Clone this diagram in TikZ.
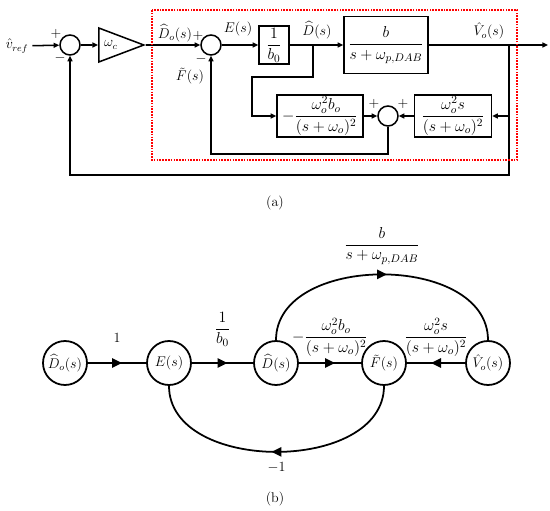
\RequirePackage{fix-cm}
\documentclass[tikz,border=0pt]{standalone}
\usepackage{amsmath}
\usepackage{amssymb}
\usetikzlibrary{arrows.meta, positioning, shapes, decorations.markings}

\begin{document}
\begin{tikzpicture}[
    x=0.03cm, y=-0.03cm,
    font=\large,
    tf/.style={font=\fontsize{13.5}{16}\selectfont},
    block/.style={rectangle, draw, line width=1.3pt, inner sep=1pt, align=center, tf},
    sum/.style={circle, draw, line width=1.3pt, minimum size=0.6cm, inner sep=0pt},
    amp/.style={isosceles triangle, draw, line width=1.3pt, isosceles triangle stretches, minimum width=1.02cm, minimum height=1.35cm, inner sep=0pt},
    arrow/.style={-{Triangle[length=1.7mm, width=1.5mm]}, line width=1.3pt},
    sign/.style={inner sep=1pt},
    state/.style={circle, draw, line width=1.5pt, minimum size=1.32cm, inner sep=0pt},
    flow/.style={line width=1.5pt, postaction={decorate}, decoration={markings, mark=at position 0.5 with {\arrow[xshift=1.5mm]{Triangle[length=3mm, width=2.8mm]}}}}
]
\useasboundingbox (0,0) rectangle (550,511);

\node (vref) at (17,46) {$\hat{v}_{ref}$};
\node[sum] (s1) at (70,45) {};
\node[amp, anchor=west] (wc) at (98,45) {$\omega_c$};
\node[sum] (s2) at (211,45) {};
\node[block, minimum width=0.9cm, minimum height=1.14cm] (b0) at (274,45) {$\dfrac{1}{b_0}$};
\node[block, minimum width=2.52cm, minimum height=1.71cm] (plant) at (386,45) {$\dfrac{b}{s+\omega_{p,DAB}}$};
\node[block, minimum width=2.58cm, minimum height=1.26cm] (fd) at (320,116) {$-\dfrac{\omega_o^2 b_o}{(s+\omega_o)^2}$};
\node[sum] (s3) at (388,116) {};
\node[block, minimum width=2.31cm, minimum height=1.26cm] (fv) at (453,116) {$\dfrac{\omega_o^2 s}{(s+\omega_o)^2}$};

\coordinate (d1) at (313,45);
\coordinate (v1) at (509,45);
\coordinate (out) at (548,45);
\coordinate (c1) at (252,77);
\coordinate (c2) at (509,175);
\coordinate (c3) at (388,154);

\draw[arrow] (vref) -- (s1);
\draw[arrow] (s1) -- (wc);
\draw[arrow] (wc) -- (s2);
\draw[arrow] (s2) -- (b0);
\draw[arrow] (b0) -- (plant);
\draw[arrow] (plant) -- (out);
\draw[arrow] (d1) |- (c1) |- (fd);
\draw[arrow] (v1) |- (fv);
\draw[arrow] (v1) -- (c2) -| (s1);
\draw[arrow] (fd) -- (s3);
\draw[arrow] (fv) -- (s3);
\draw[arrow] (s3) -- (c3) -| (s2);

\draw[red, densely dotted, line width=1.4pt] (152,10) rectangle (517,160);

\node[sign] (p1) at (56,34) {$+$};
\node[sign] (m1) at (60,58) {$-$};
\node[sign] (Dol) at (175,33) {$\widehat{D}_o(s)$};
\node[sign] (p2) at (198,36) {$+$};
\node[sign] (m2) at (201,59) {$-$};
\node[sign] (Fl) at (190,76) {$\tilde{F}(s)$};
\node[sign] (El) at (238,29) {$E(s)$};
\node[sign] (Dl) at (317,30) {$\widehat{D}(s)$};
\node[sign] (Vl) at (489,31) {$\hat{V}_o(s)$};
\node[sign] (p3) at (374,104) {$+$};
\node[sign] (p4) at (403,104) {$+$};
\node (capa) at (275,203) {(a)};

\node[state] (nDo) at (65,363) {$\widehat{D}_o(s)$};
\node[state] (nE) at (169,363) {$E(s)$};
\node[state] (nD) at (276,363) {$\widehat{D}(s)$};
\node[state] (nF) at (384,363) {$\tilde{F}(s)$};
\node[state] (nV) at (488,363) {$\hat{V}_o(s)$};

\draw[flow] (nDo) -- node[above=0.46cm] (g1) {$1$} (nE);
\draw[flow] (nE) -- node[above=0.36cm, tf] (g2) {$\dfrac{1}{b_0}$} (nD);
\draw[flow] (nD) -- node[above=0.14cm, tf, inner sep=1pt] (g3) {$-\dfrac{\omega_o^2 b_o}{(s+\omega_o)^2}$} (nF);
\draw[flow] (nV) -- node[above=0.14cm, tf, inner sep=1pt] (g4) {$\dfrac{\omega_o^2 s}{(s+\omega_o)^2}$} (nF);
\draw[flow] (nD) to[out=90, in=90, looseness=1.06] node[above=0.16cm, tf] (g5) {$\dfrac{b}{s+\omega_{p,DAB}}$} (nV);
\draw[flow] (nF) to[out=-90, in=-90, looseness=1.05] node[below=0.16cm] (g6) {$-1$} (nE);
\node (capb) at (275,499) {(b)};
\end{tikzpicture}
\end{document}
